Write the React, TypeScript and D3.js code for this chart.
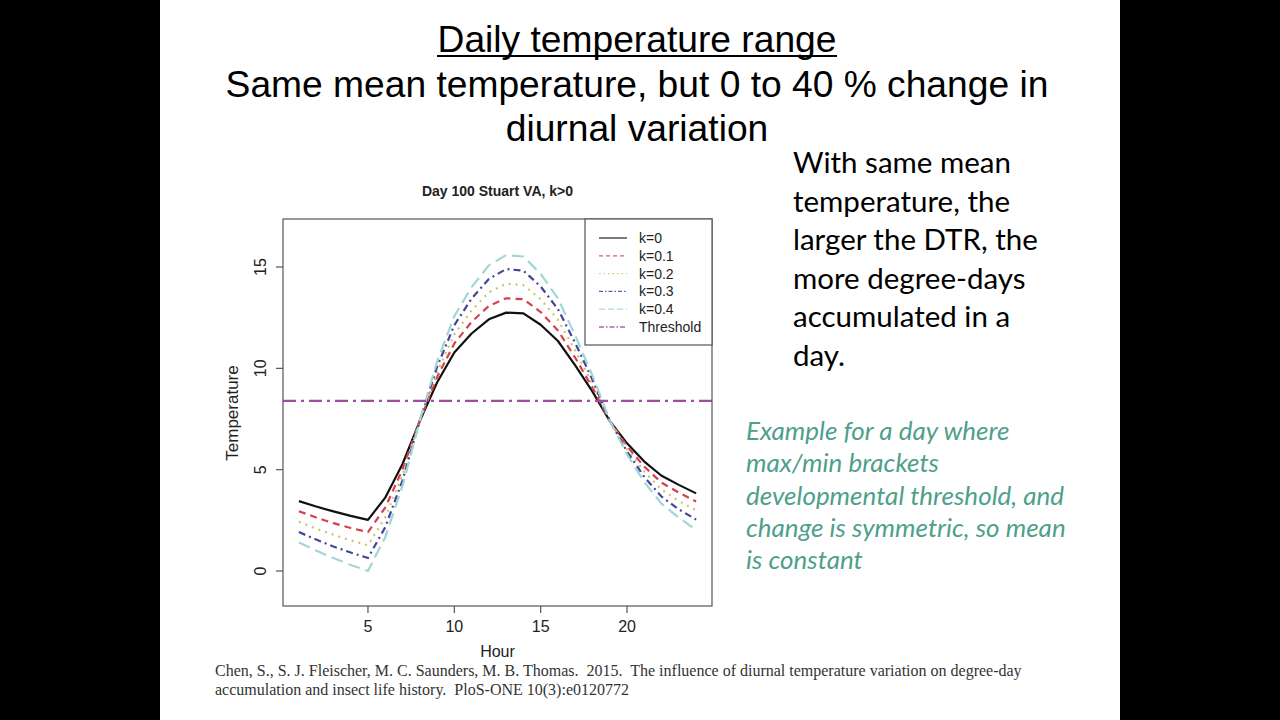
import React from "react";
import * as d3 from "d3";

// Hourly temperature profiles for day 100 (Stuart, VA) under increasing diurnal range k
const hours = [1, 2, 3, 4, 5, 6, 7, 8, 9, 10, 11, 12, 13, 14, 15, 16, 17, 18, 19, 20, 21, 22, 23, 24];
const tempK0 = [3.45, 3.18, 2.94, 2.72, 2.52, 3.62, 5.28, 7.4, 9.3, 10.78, 11.72, 12.42, 12.75, 12.71, 12.15, 11.35, 10.15, 8.85, 7.4, 6.3, 5.4, 4.7, 4.25, 3.83];
const tempK01 = [2.95, 2.64, 2.36, 2.12, 1.92, 3.13, 5.01, 7.41, 9.56, 11.23, 12.29, 13.08, 13.46, 13.41, 12.78, 11.87, 10.52, 9.05, 7.41, 6.16, 5.15, 4.36, 3.87, 3.43];
const tempK02 = [2.43, 2.09, 1.79, 1.51, 1.27, 2.65, 4.74, 7.42, 9.81, 11.68, 12.86, 13.75, 14.18, 14.11, 13.41, 12.4, 10.88, 9.24, 7.42, 6.03, 4.9, 4.02, 3.45, 3.0];
const tempK03 = [1.92, 1.55, 1.21, 0.91, 0.64, 2.16, 4.47, 7.42, 10.07, 12.13, 13.44, 14.41, 14.9, 14.82, 14.04, 12.92, 11.25, 9.44, 7.42, 5.89, 4.64, 3.67, 3.04, 2.54];
const tempK04 = [1.41, 1.01, 0.64, 0.3, 0.0, 1.67, 4.2, 7.43, 10.32, 12.58, 14.01, 15.08, 15.59, 15.52, 14.66, 13.45, 11.62, 9.64, 7.43, 5.76, 4.39, 3.32, 2.63, 2.02];
const threshold = 8.4;

const seriesLabels = ["k=0", "k=0.1", "k=0.2", "k=0.3", "k=0.4"];
const seriesValues = [tempK0, tempK01, tempK02, tempK03, tempK04];
const seriesColors = ["#111111", "#d8404c", "#c9c46a", "#45459a", "#a2d6d6"];
const seriesDashes = ["none", "7 5", "2 5", "7 4 2 4", "12 6"];
const legendDashes = ["none", "4 3", "1.5 3", "4 2 1.5 2", "6 3"];
const thresholdColor = "#9c4d9c";

const xTicks = [5, 10, 15, 20];
const yTicks = [0, 5, 10, 15];

const titleLines = ["Same mean temperature, but 0 to 40 % change in", "diurnal variation"];
const noteLines = ["With same mean", "temperature, the", "larger the DTR, the", "more degree-days", "accumulated in a", "day."];
const exampleLines = [
  "Example for a day where",
  "max/min brackets",
  "developmental threshold, and",
  "change is symmetric, so mean",
  "is constant",
];
const citationLines = [
  "Chen, S., S. J. Fleischer, M. C. Saunders, M. B. Thomas.  2015.  The influence of diurnal temperature variation on degree-day",
  "accumulation and insect life history.  PloS-ONE 10(3):e0120772",
];

const plotFont = "'Liberation Sans', Arial, Helvetica, sans-serif";

export default function App() {
  const left = 283;
  const right = 712;
  const top = 219;
  const bottom = 606;

  const x = d3.scaleLinear().domain([0.08, 24.92]).range([left, right]);
  const y = d3.scaleLinear().domain([-1.727, 17.37]).range([bottom, top]);

  const line = d3
    .line<number>()
    .x((_, i) => x(hours[i]))
    .y((d) => y(d));

  const legendRows = [...seriesLabels, "Threshold"];
  const legendColors = [...seriesColors, thresholdColor];
  const legendDash = [...legendDashes, "5 2 1.5 2"];

  return (
    <svg
      width={1280}
      height={720}
      style={{ position: "fixed", left: 0, top: 0, display: "block" }}
    >
      <rect x={0} y={0} width={1280} height={720} fill="#000" />
      <rect x={160} y={0} width={960} height={720} fill="#fff" />

      {/* slide heading */}
      <g fontFamily={plotFont} fill="#000" textAnchor="middle" fontSize={37.2}>
        <text x={637} y={52}>Daily temperature range</text>
        <line x1={437} x2={837} y1={56} y2={56} stroke="#000" strokeWidth={2} />
        {titleLines.map((t, i) => (
          <text key={t} x={637} y={97 + i * 44}>
            {t}
          </text>
        ))}
      </g>

      {/* chart */}
      <g fontFamily={plotFont}>
        <text x={497.5} y={196} textAnchor="middle" fontSize={14} fontWeight="bold" fill="#222">
          Day 100 Stuart VA, k&gt;0
        </text>

        {seriesValues.map((vals, i) => (
          <path
            key={seriesLabels[i]}
            d={line(vals) || ""}
            fill="none"
            stroke={seriesColors[i]}
            strokeWidth={2.2}
            strokeDasharray={seriesDashes[i]}
            strokeLinejoin="round"
          />
        ))}

        <line
          x1={left}
          x2={right}
          y1={y(threshold)}
          y2={y(threshold)}
          stroke={thresholdColor}
          strokeWidth={2.2}
          strokeDasharray="13 5 3 5"
        />

        <rect x={left} y={top} width={right - left} height={bottom - top} fill="none" stroke="#555" strokeWidth={1.2} />

        {/* x axis */}
        {xTicks.map((t) => (
          <g key={`x${t}`}>
            <line x1={x(t)} x2={x(t)} y1={bottom} y2={bottom + 7} stroke="#555" strokeWidth={1.2} />
            <text x={x(t)} y={632} textAnchor="middle" fontSize={16} fill="#222">
              {t}
            </text>
          </g>
        ))}
        <text x={497.5} y={657} textAnchor="middle" fontSize={16} fill="#222">
          Hour
        </text>

        {/* y axis */}
        {yTicks.map((t) => (
          <g key={`y${t}`}>
            <line x1={left - 7} x2={left} y1={y(t)} y2={y(t)} stroke="#555" strokeWidth={1.2} />
            <text
              transform={`translate(266,${y(t)}) rotate(-90)`}
              textAnchor="middle"
              fontSize={16}
              fill="#222"
            >
              {t}
            </text>
          </g>
        ))}
        <text transform={`translate(238,413) rotate(-90)`} textAnchor="middle" fontSize={17} fill="#222">
          Temperature
        </text>

        {/* legend */}
        <rect x={585} y={top} width={right - 585} height={126} fill="#fff" stroke="#555" strokeWidth={1.2} />
        {legendRows.map((lab, i) => {
          const cy = 238 + i * 17.8;
          return (
            <g key={lab}>
              <line
                x1={599}
                x2={627}
                y1={cy}
                y2={cy}
                stroke={legendColors[i]}
                strokeWidth={1.3}
                strokeDasharray={legendDash[i]}
                opacity={0.85}
              />
              <text x={639} y={cy + 5} fontSize={14} fill="#222">
                {lab}
              </text>
            </g>
          );
        })}
      </g>

      {/* side notes */}
      <g fontFamily="Lato, 'Open Sans', sans-serif" fontSize={29.5} fill="#000">
        {noteLines.map((t, i) => (
          <text key={t} x={793} y={173 + i * 38.5}>
            {t}
          </text>
        ))}
      </g>
      <g fontFamily="Lato, 'Open Sans', sans-serif" fontSize={26} fontStyle="italic" fill="#4f9f8c">
        {exampleLines.map((t, i) => (
          <text key={t} x={746} y={440 + i * 32.3}>
            {t}
          </text>
        ))}
      </g>

      {/* reference */}
      <g fontFamily="'Liberation Serif', 'Times New Roman', serif" fontSize={16} fill="#333">
        {citationLines.map((t, i) => (
          <text key={i} x={215} y={675.5 + i * 19} xmlSpace="preserve" style={{ whiteSpace: "pre" }}>
            {t}
          </text>
        ))}
      </g>
    </svg>
  );
}
